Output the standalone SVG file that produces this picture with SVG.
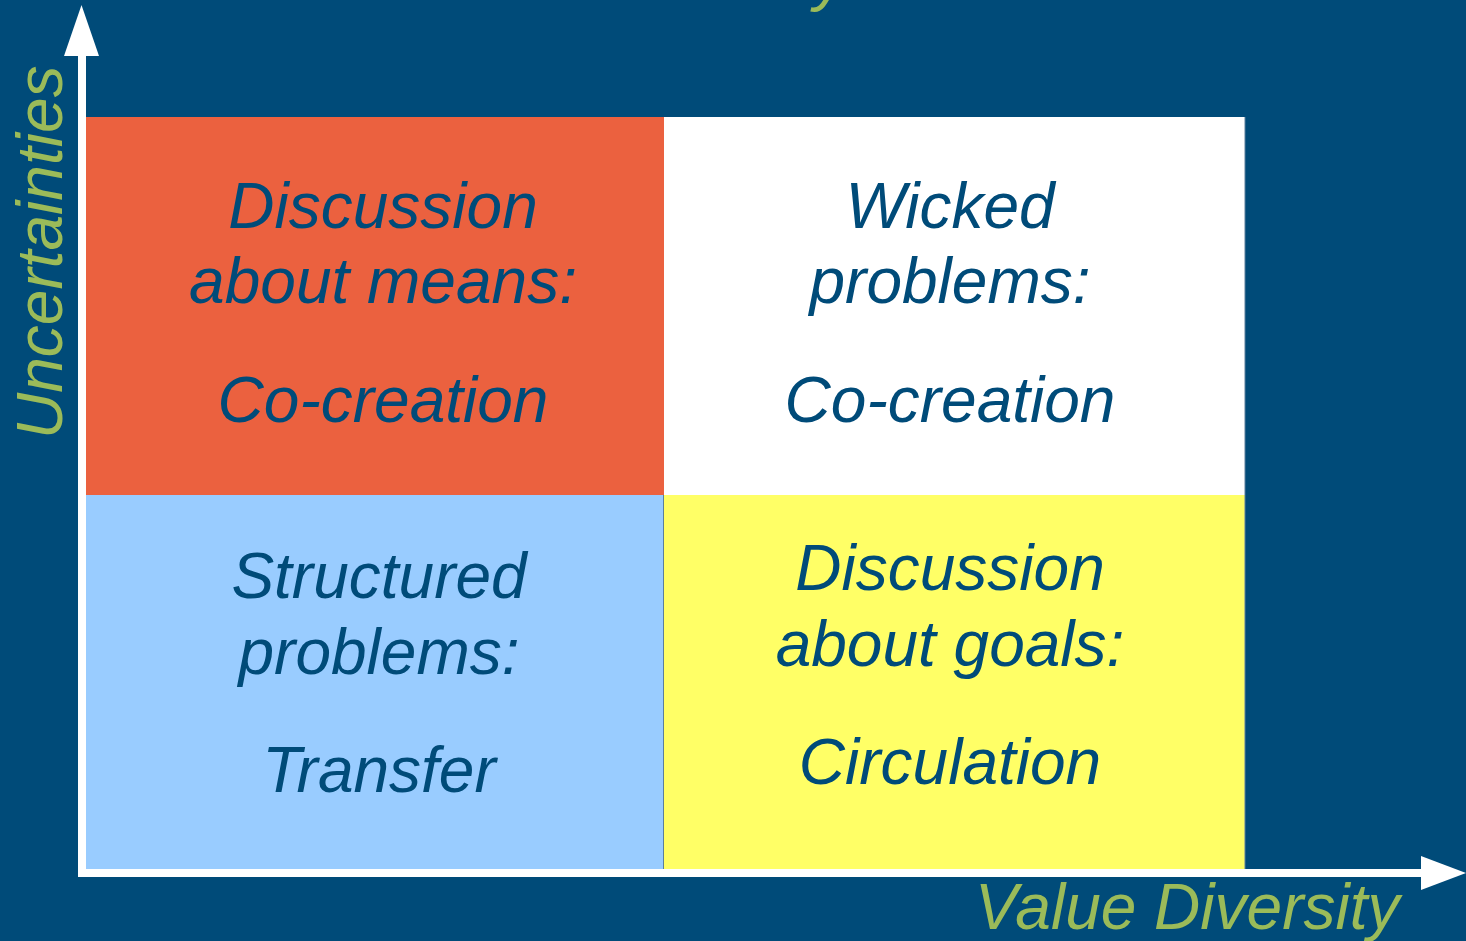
<svg xmlns="http://www.w3.org/2000/svg" width="1466" height="941" viewBox="0 0 1466 941">
<style>
.q{font-family:"Liberation Sans",Arial,sans-serif;font-style:italic;font-size:64px;fill:#004b79;text-anchor:middle}
.ax{font-family:"Liberation Sans",Arial,sans-serif;font-style:italic;font-size:64px;fill:#9bbb59}
.sep{stroke:#5b7f9c;stroke-width:1}
</style>
<rect x="0" y="0" width="1466" height="941" fill="#004b79"/>
<text class="ax" x="814" y="-1">y</text>
<g id="q-top-left">
<rect x="86" y="117" width="578" height="378" fill="#eb613f"/>
<text class="q" x="383" y="228">Discussion</text>
<text class="q" x="383" y="303">about means:</text>
<text class="q" x="383" y="422">Co-creation</text>
</g>
<g id="q-top-right">
<rect x="664" y="117" width="581" height="378" fill="#ffffff"/>
<text class="q" x="950" y="228">Wicked</text>
<text class="q" x="950" y="303">problems:</text>
<text class="q" x="950" y="422">Co-creation</text>
</g>
<g id="q-bottom-left">
<rect x="86" y="495" width="578" height="374" fill="#99ccff"/>
<text class="q" x="379" y="598">Structured</text>
<text class="q" x="379" y="674">problems:</text>
<text class="q" x="379" y="792">Transfer</text>
</g>
<g id="q-bottom-right">
<rect x="664" y="495" width="581" height="374" fill="#ffff66"/>
<text class="q" x="950" y="590">Discussion</text>
<text class="q" x="950" y="666">about goals:</text>
<text class="q" x="950" y="784">Circulation</text>
</g>
<line class="sep" x1="663.5" y1="495" x2="663.5" y2="869"/>
<line class="sep" x1="1245" y1="117" x2="1245" y2="869"/>
<g id="connectors">
<rect x="78" y="54" width="8" height="823" fill="#ffffff"/>
<polygon points="64,56 81.5,5 99,56" fill="#ffffff"/>
<rect x="78" y="869" width="1344" height="8" fill="#ffffff"/>
<polygon points="1421,856 1466,873 1421,890" fill="#ffffff"/>
</g>
<g id="axis-labels">
<text class="ax" transform="translate(62,439) rotate(-90)">Uncertainties</text>
<text class="ax" x="975" y="929">Value Diversity</text>
</g>
</svg>
